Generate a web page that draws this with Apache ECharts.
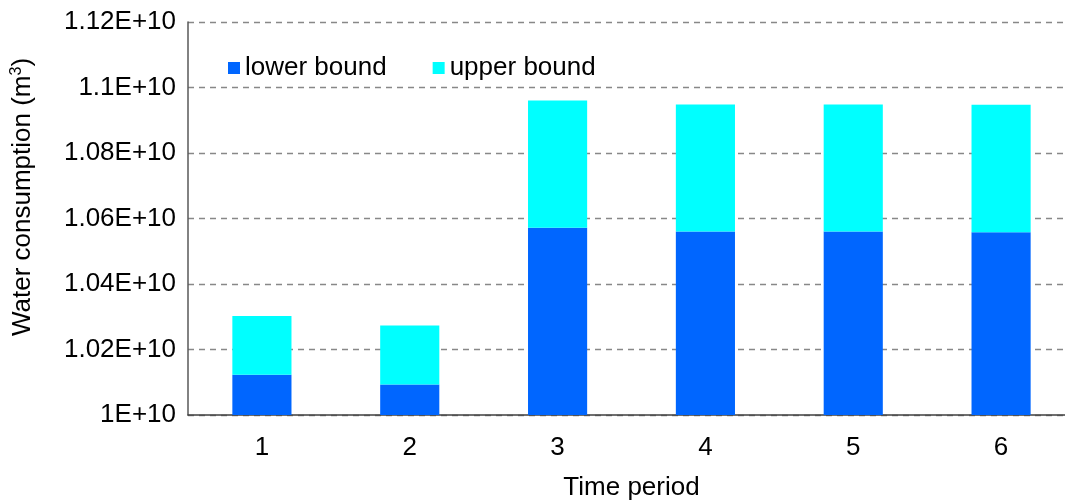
<!DOCTYPE html>
<html>
<head>
<meta charset="utf-8">
<script src="https://cdn.jsdelivr.net/npm/echarts@6/dist/echarts.min.js"></script>
<style>
html,body{margin:0;padding:0;background:#fff;}
#chart{width:1065px;height:501px;}
</style>
</head>
<body>
<div id="chart"></div>
<script>
const categories = ['1', '2', '3', '4', '5', '6'];
const lowerBound = [1.0123e10, 1.0093e10, 1.0572e10, 1.0560e10, 1.0560e10, 1.0558e10];
const upperBound = [1.0302e10, 1.0273e10, 1.0960e10, 1.0948e10, 1.0948e10, 1.0947e10];
const yMin = 1.0e10, yMax = 1.12e10, yInterval = 0.02e10;

const chart = echarts.init(document.getElementById('chart'));
const font = '"Liberation Sans", Arial, sans-serif';
const FS = 26;
const upperPart = upperBound.map((v, i) => v - lowerBound[i]);

chart.setOption({
  animation: false,
  textStyle: { fontFamily: font },
  grid: { left: 188, top: 22, bottom: 86, right: -10, outerBoundsMode: 'none', containLabel: false },
  legend: {
    left: 223, top: 50,
    itemWidth: 12, itemHeight: 12, itemGap: 46,
    icon: 'rect',
    textStyle: { fontSize: FS, color: '#000', fontFamily: font },
    data: ['lower bound', 'upper bound']
  },
  graphic: [{
    type: 'text',
    x: 23, y: 197,
    rotation: Math.PI / 2,
    style: {
      text: '{n|Water consumption (m}{sup|3}{n|)}',
      align: 'center', verticalAlign: 'middle',
      rich: {
        n: { fontSize: FS, fill: '#000', fontFamily: font },
        sup: { fontSize: 16, fill: '#000', fontFamily: font, verticalAlign: 'top', padding: [0, 0, 12, 0] }
      }
    }
  }],
  xAxis: {
    type: 'category',
    data: categories,
    name: 'Time period',
    nameLocation: 'middle',
    nameGap: 60,
    nameTextStyle: { fontSize: FS, color: '#000', fontFamily: font },
    axisLine: { lineStyle: { color: '#404040', width: 1.5 } },
    axisTick: { show: false },
    axisLabel: { fontSize: FS, color: '#000', margin: 20, fontFamily: font }
  },
  yAxis: {
    type: 'value',
    min: yMin, max: yMax, interval: yInterval,
    axisLine: { show: true, lineStyle: { color: '#595959', width: 1.5 } },
    axisTick: { show: false },
    splitLine: { lineStyle: { color: '#888', type: [6, 5], width: 1.3 } },
    axisLabel: {
      fontSize: FS, color: '#000', margin: 12, fontFamily: font,
      formatter: v => String(parseFloat((v / 1e10).toFixed(2))) + 'E+10'
    }
  },
  series: [
    {
      name: 'lower bound', type: 'bar', stack: 'total',
      barWidth: '40%',
      itemStyle: { color: '#0066FF' },
      data: lowerBound
    },
    {
      name: 'upper bound', type: 'bar', stack: 'total',
      barWidth: '40%',
      itemStyle: { color: '#00FFFF' },
      data: upperPart
    }
  ]
});
</script>
</body>
</html>
